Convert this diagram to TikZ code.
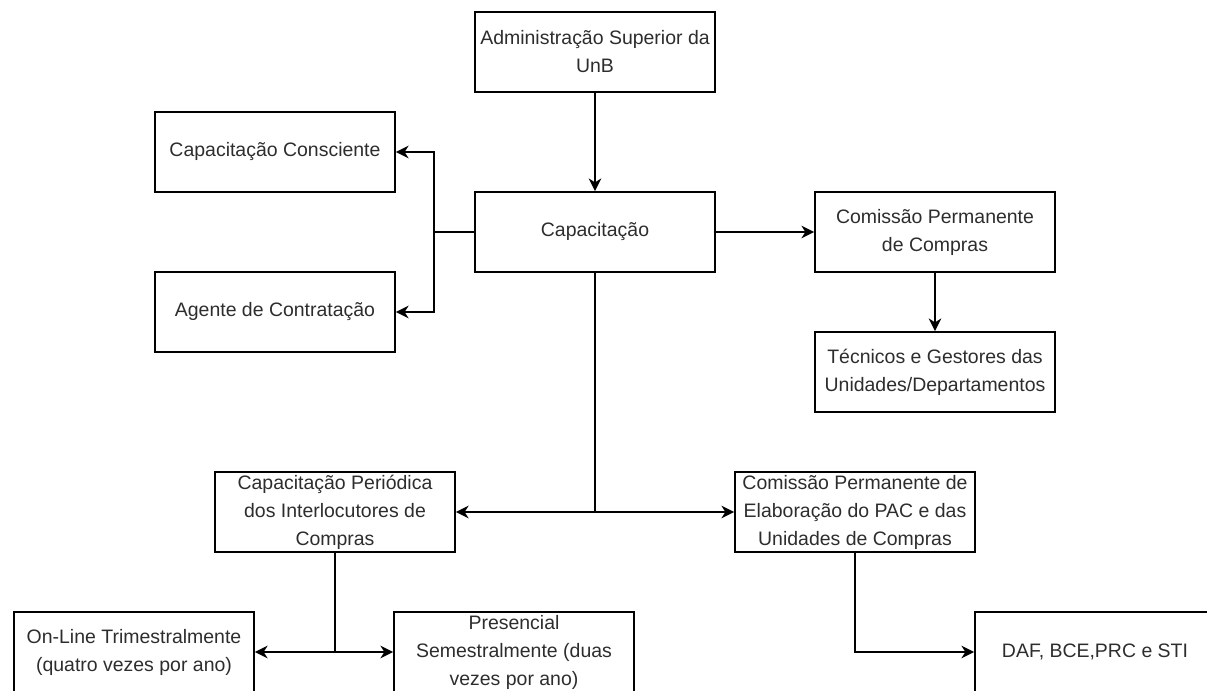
\documentclass[tikz,border=0pt]{standalone}
\usepackage{fontspec}
\setmainfont{Liberation Sans}
\usetikzlibrary{arrows.meta}
\definecolor{txt}{RGB}{45,45,45}
\begin{document}
\begin{tikzpicture}[x=0.75pt,y=-0.75pt,
  box/.style={draw, line width=1.4pt, minimum width=180pt, minimum height=60pt, inner sep=0pt, align=center, text=txt, font=\fontsize{14.6pt}{21pt}\selectfont},
  conn/.style={line width=1.4pt},
  arr/.style={conn, -{Stealth[length=9.5pt,width=9.5pt,inset=3pt]}}]
\useasboundingbox (0,0) rectangle (1207,690);
\clip (0,0) rectangle (1207,690);
\node[box] (adm) at (595,52) {Administração Superior da\\UnB};
\node[box] (cap) at (595,232) {Capacitação};
\node[box] (cons) at (275,152) {Capacitação Consciente};
\node[box] (agen) at (275,312) {Agente de Contratação};
\node[box] (cpc) at (935,232) {Comissão Permanente\\de Compras};
\node[box] (tec) at (935,372) {Técnicos e Gestores das\\Unidades/Departamentos};
\node[box] (per) at (335,512) {Capacitação Periódica\\dos Interlocutores de\\Compras};
\node[box] (pac) at (855,512) {Comissão Permanente de\\Elaboração do PAC e das\\Unidades de Compras};
\node[box] (onl) at (134,652) {On-Line Trimestralmente\\(quatro vezes por ano)};
\node[box] (pre) at (514,652) {Presencial\\Semestralmente (duas\\vezes por ano)};
\node[box] (daf) at (1095,652) {DAF, BCE,PRC e STI};
\draw[arr] (adm) -- (cap);
\coordinate (lj) at (434,232);
\draw[conn] (cap.west) -- (lj);
\draw[arr] (lj) |- (cons.east);
\draw[arr] (lj) |- (agen.east);
\draw[arr] (cap) -- (cpc);
\draw[arr] (cpc) -- (tec);
\coordinate (mj) at (595,512);
\draw[conn] (cap.south) -- (mj);
\draw[arr] (mj) -- (per.east);
\draw[arr] (mj) -- (pac.west);
\coordinate (pj) at (per.south |- onl.east);
\draw[conn] (per.south) -- (pj);
\draw[arr] (pj) -- (onl.east);
\draw[arr] (pj) -- (pre.west);
\draw[arr] (pac.south) |- (daf.west);
\end{tikzpicture}
\end{document}
